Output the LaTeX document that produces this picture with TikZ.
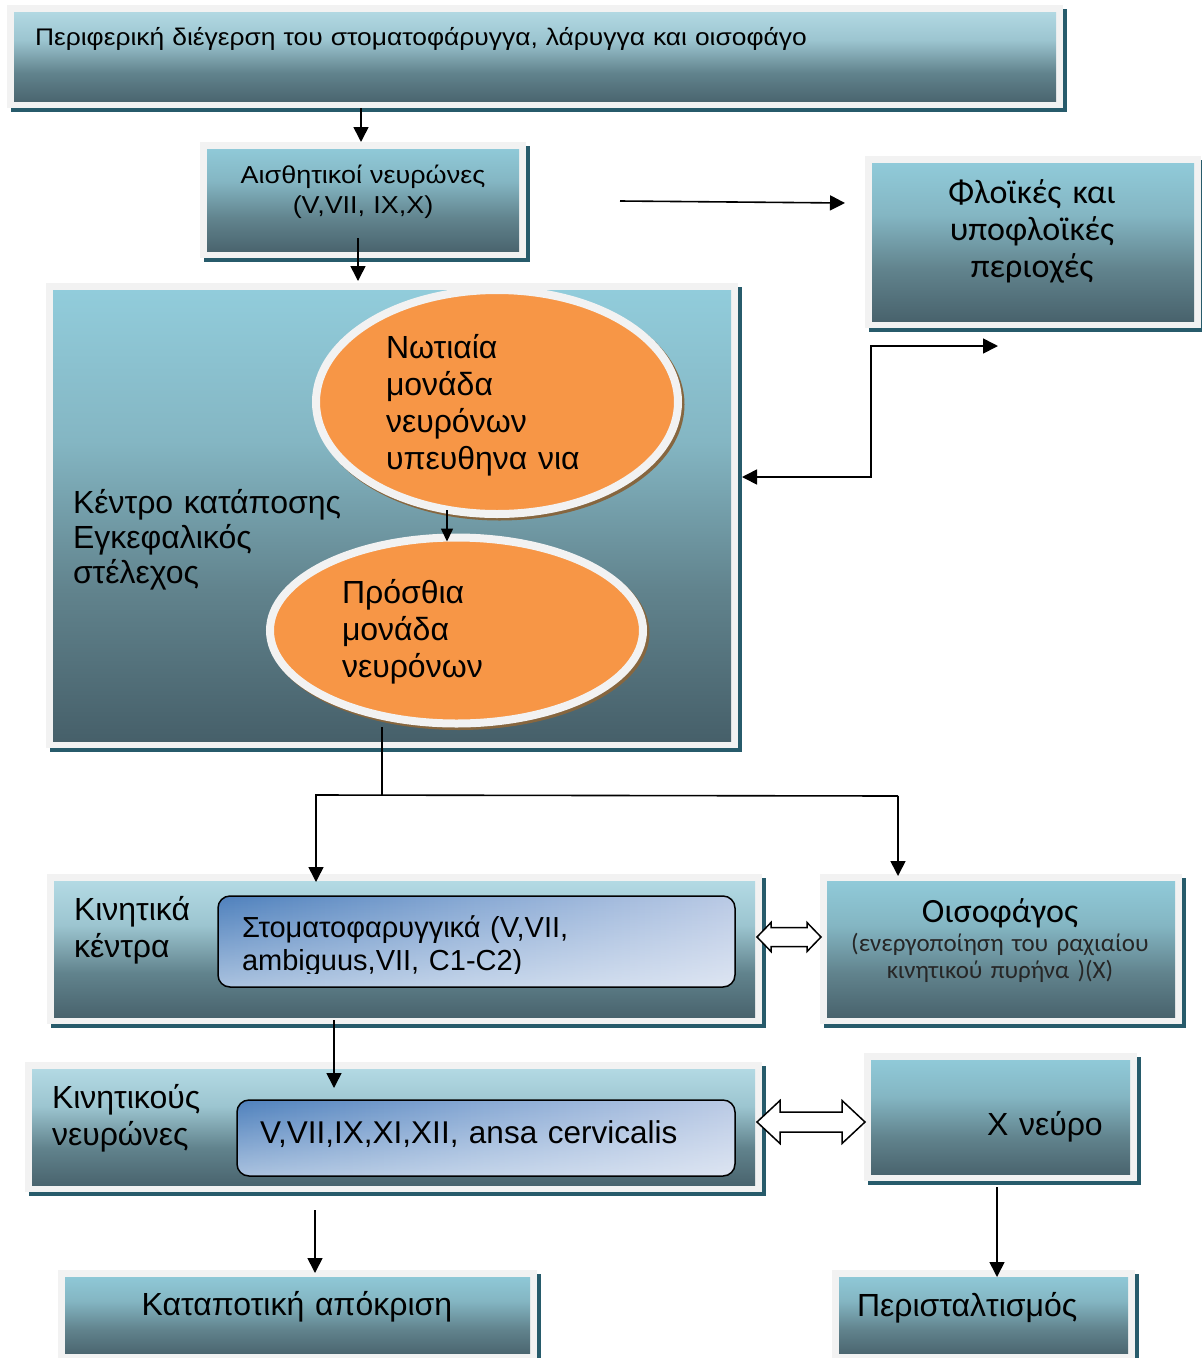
\documentclass[tikz,border=0pt]{standalone}
\usepackage{fontspec}
\setmainfont{Liberation Sans}
\newfontfamily\calfont{Carlito}
\newfontfamily\widefont[FakeStretch=1.1]{Liberation Sans}
\usetikzlibrary{arrows.meta,shapes.geometric,shadows,fit,calc,fadings}

\definecolor{framegrey}{HTML}{F2F2F2}
\definecolor{shteal}{HTML}{275B6B}
\definecolor{bxTop}{HTML}{92CDDC}
\definecolor{bxA}{HTML}{84B6C3}
\definecolor{bxB}{HTML}{61838D}
\definecolor{bxBot}{HTML}{455E68}
\definecolor{ltTop}{HTML}{B7DDE7}
\definecolor{ltA}{HTML}{9CC5D0}
\definecolor{orng}{HTML}{F79646}
\definecolor{ellsh}{HTML}{86663F}
\definecolor{stoA}{HTML}{4F81BD}
\definecolor{stoM}{HTML}{88A9D4}
\definecolor{stoB}{HTML}{BACAE5}
\definecolor{subtxt}{HTML}{262626}

\pgfdeclareverticalshading{boxshade}{100bp}{color(0bp)=(bxBot); color(25bp)=(bxBot); color(42bp)=(bxB); color(58bp)=(bxA); color(75bp)=(bxTop); color(100bp)=(bxTop)}
\pgfdeclareverticalshading{boxshadelt}{100bp}{color(0bp)=(bxBot); color(25bp)=(bxBot); color(42bp)=(bxB); color(58bp)=(ltA); color(75bp)=(ltTop); color(100bp)=(ltTop)}
\tikzfading[name=whitedown, top color=transparent!100, bottom color=transparent!48]

\newcommand\fs[2]{\fontsize{#1}{#2}\selectfont}

\tikzset{
  boxframe/.style={rectangle, fill=framegrey, inner sep=0pt, outer sep=0pt,
    drop shadow={shadow xshift=3.5pt, shadow yshift=-4pt, fill=shteal, opacity=1},
    path picture={\shade[shading=#1] ([xshift=7pt,yshift=-7pt]path picture bounding box.north west) rectangle ([xshift=-7pt,yshift=7pt]path picture bounding box.south east);}},
  ellnode/.style={ellipse, fill=orng, draw=framegrey, line width=8pt, inner sep=0pt,
    preaction={draw=ellsh, line width=8pt, transform canvas={xshift=2.5pt,yshift=-2.5pt}}},
  rbox/.style={rectangle, rounded corners=12pt, draw=black, line width=1.5pt, inner sep=0pt,
    path picture={
      \shade[left color=stoA, right color=stoB, middle color=stoM] (path picture bounding box.north west) rectangle (path picture bounding box.south east);
      \fill[white, path fading=whitedown] (path picture bounding box.north west) rectangle (path picture bounding box.south east);}},
  txt/.style={inner sep=0pt, outer sep=0pt, text width=1100pt, align=left, anchor=base west},
  txtc/.style={inner sep=0pt, outer sep=0pt, text width=400pt, align=center, anchor=base},
  arr/.style={-{Triangle[length=15pt,width=15pt]}, line width=1.6pt},
  arrs/.style={-{Triangle[length=13pt,width=12pt]}, line width=1.6pt},
  arrtwo/.style={{Triangle[length=15pt,width=15pt]}-{Triangle[length=15pt,width=15pt]}, line width=1.6pt},
  hollow/.style={draw=black, fill=white, line width=1.5pt, line join=miter}
}

\begin{document}
\begin{tikzpicture}[x=1pt,y=-1pt]
\useasboundingbox (0,0) rectangle (1202,1358);

% boxes
\node[boxframe=boxshadelt, fit={(7,5) (1063,108)}] (b1) {};
\node[boxframe=boxshade, fit={(200,142) (526,258)}] (b2) {};
\node[boxframe=boxshade, fit={(865,156) (1201,328)}] (bF) {};
\node[boxframe=boxshade, fit={(46,283) (738,748)}] (b3) {};
\node[boxframe=boxshadelt, fit={(47,874) (762,1024)}] (b4) {};
\node[boxframe=boxshade, fit={(820,874) (1182,1024)}] (b5) {};
\node[boxframe=boxshadelt, fit={(25,1062) (762,1192)}] (b6) {};
\node[boxframe=boxshade, fit={(864,1053) (1137,1181)}] (b7) {};
\node[boxframe=boxshade, fit={(58,1270) (537,1360)}] (b8) {};
\node[boxframe=boxshade, fit={(832,1270) (1135,1360)}] (b9) {};

% ellipses
\node[ellnode, minimum width=362pt, minimum height=224pt] (e1) at (497,402) {};
\node[ellnode, minimum width=373pt, minimum height=186pt] (e2) at (456.5,630.5) {};

% inner rounded boxes
\node[rbox, fit={(218,896) (735,987)}] (sto) {};
\node[rbox, fit={(237,1100) (735,1176)}] (ansa) {};

% texts
\node[txt, font=\widefont\fs{24}{30}] (t1) at (35,45) {Περιφερική διέγερση του στοματοφάρυγγα, λάρυγγα και οισοφάγο};
\node[txtc, font=\widefont\fs{24.5}{30}] (t2) at (363,183) {Αισθητικοί νευρώνες\\(V,VII, IX,X)};
\node[txtc, font=\calfont\fs{34}{37}] (tF) at (1032,203) {Φλοϊκές και\\υποφλοϊκές\\περιοχές};
\node[txt, font=\fs{32}{35}] (t3) at (73,513) {Κέντρο κατάποσης\\Εγκεφαλικός\\στέλεχος};
\node[txt, font=\fs{32}{37}] (te1) at (386,358) {Νωτιαία\\μονάδα\\νευρόνων\\υπευθηνα νια};
\node[txt, font=\fs{32}{37}] (te2) at (342,603) {Πρόσθια\\μονάδα\\νευρόνων};
\node[txt, font=\fs{32}{37}] (t4) at (74,920) {Κινητικά\\κέντρα};
\begin{scope}
\clip (218,896) rectangle (735,973);
\node[txt, font=\fs{29}{33}] (tsto) at (242,937) {Στοματοφαρυγγικά (V,VII,\\ambiguus,VII, C1-C2)};
\end{scope}
\node[txtc, font=\calfont\fs{34}{37}] (t5) at (1000,922) {Οισοφάγος};
\node[txtc, font=\calfont\fs{25}{27}, text=subtxt] (t5b) at (1000,951) {(ενεργοποίηση του ραχιαίου\\κινητικού πυρήνα )(X)};
\node[txt, font=\fs{32}{37}] (t6) at (52,1108) {Κινητικούς\\νευρώνες};
\node[txt, font=\fs{31.5}{37}] (tansa) at (260,1143) {V,VII,IX,XI,XII, ansa cervicalis};
\node[txt, font=\fs{32}{37}] (t7) at (987,1135) {X νεύρο};
\node[txtc, font=\fs{32}{37}] (t8) at (297,1315) {Καταποτική απόκριση};
\node[txt, font=\fs{32}{37}] (t9) at (857,1316) {Περισταλτισμός};

% connectors
\draw[arr] (b1.south -| 361,0) -- (b2.north -| 361,0);
\draw[arr] ($(b2.south -| 358,0)+(0,-20)$) -- ($(b3.north -| 358,0)+(0,-2)$);
\coordinate (h1) at (620,201);
\coordinate (h2) at (845,203);
\draw[arr] (h1) -- (h2);
\coordinate (k1) at (871,477);
\coordinate (k2) at (871,346);
\coordinate (k3) at (998,346);
\draw[arrtwo] ($(b3.east |- k1)+(4,0)$) -- (k1) -- (k2) -- (k3);
\draw[arrs] ($(e1.south -| 447,0)+(0,-8)$) -- ($(e2.north -| 447,0)+(0,8)$);
\coordinate (j1) at (382,795);
\coordinate (jL) at (316,795);
\coordinate (jR) at (898,796);
\draw[line width=1.6pt] ($(b3.south -| 382,0)+(0,-21)$) -- (j1);
\draw[arr] (jR) -- (jL) -- ($(b4.north -| 316,0)+(0,8)$);
\draw[arr] (jR) -- ($(b5.north -| 898,0)+(0,2)$);
\draw[arr] ($(b4.south -| 334,0)+(0,-4)$) -- ($(b6.north -| 334,0)+(0,26)$);
\draw[arr] ($(b6.south -| 315,0)+(0,18)$) -- ($(b8.north -| 315,0)+(0,3)$);
\draw[arr] ($(b7.south -| 997,0)+(0,6)$) -- ($(b9.north -| 997,0)+(0,7)$);

% hollow double arrows
\draw[hollow] ($(b4.east |- 0,937)+(-5,0)$) -- ++(14,-14.5) -- ++(0,5) -- ++(36,0) -- ++(0,-5) -- ++(14,14.5) -- ++(-14,14.5) -- ++(0,-5) -- ++(-36,0) -- ++(0,5) -- cycle;
\draw[hollow] ($(b6.east |- 0,1122)+(-5,0)$) -- ++(23,-21.5) -- ++(0,11.5) -- ++(62,0) -- ++(0,-11.5) -- ++(23,21.5) -- ++(-23,21.5) -- ++(0,-11.5) -- ++(-62,0) -- ++(0,11.5) -- cycle;
\end{tikzpicture}
\end{document}
